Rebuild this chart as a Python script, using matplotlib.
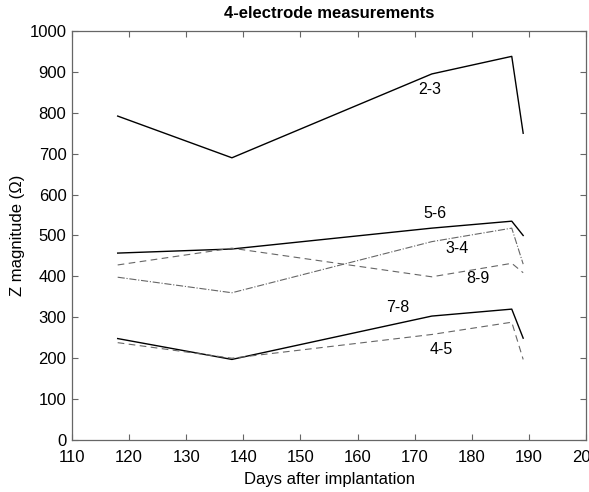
import matplotlib
matplotlib.use("Agg")
import matplotlib.pyplot as plt

plt.rcParams['font.family'] = ['Liberation Sans', 'DejaVu Sans']

days = [118, 138, 173, 187, 189]
z_23 = [792, 690, 895, 938, 750]
z_56 = [457, 467, 518, 535, 500]
z_34 = [398, 360, 485, 518, 430]
z_89 = [428, 469, 399, 432, 409]
z_78 = [248, 197, 303, 320, 249]
z_45 = [238, 200, 258, 288, 197]

labels = ["2-3", "5-6", "3-4", "8-9", "7-8", "4-5"]
label_x = [172.7, 173.6, 177.4, 181.1, 167.1, 174.7]
label_y = [856, 555, 469, 394, 324, 222]

xticks = list(range(110, 201, 10))
yticks = list(range(0, 1001, 100))

fig = plt.figure(figsize=(5.89, 4.92), dpi=100)
ax = fig.add_axes([72/589, 1-440/492, (586-72)/589, (440-31)/492])

ax.plot(days, z_23, color='black', lw=1.0, ls='-')
ax.plot(days, z_56, color='black', lw=1.0, ls='-')
ax.plot(days, z_34, color='#666666', lw=0.8, ls='-.')
ax.plot(days, z_89, color='#666666', lw=0.8, ls=(0, (6, 4)))
ax.plot(days, z_78, color='black', lw=1.0, ls='-')
ax.plot(days, z_45, color='#666666', lw=0.8, ls=(0, (6, 4)))

for t, x, y in zip(labels, label_x, label_y):
    ax.text(x, y, t, ha='center', va='center', fontsize=11.5)

ax.set_xlim(110, 200)
ax.set_ylim(0, 1000)
ax.set_xticks(xticks)
ax.set_yticks(yticks)
ax.tick_params(direction='in', top=True, right=True, length=4, width=0.8,
               color='#666666', labelsize=12)
ax.tick_params(axis='x', pad=7)
ax.tick_params(axis='y', pad=4)
for s in ax.spines.values():
    s.set_color('#666666')
    s.set_linewidth(0.9)

ax.set_title('4-electrode measurements', fontsize=12, fontweight='bold', pad=9)
ax.set_xlabel('Days after implantation', fontsize=12, labelpad=5)
ax.set_ylabel('Z magnitude (\u03a9)', fontsize=12, labelpad=3)

fig.savefig('out.png', dpi=100)
